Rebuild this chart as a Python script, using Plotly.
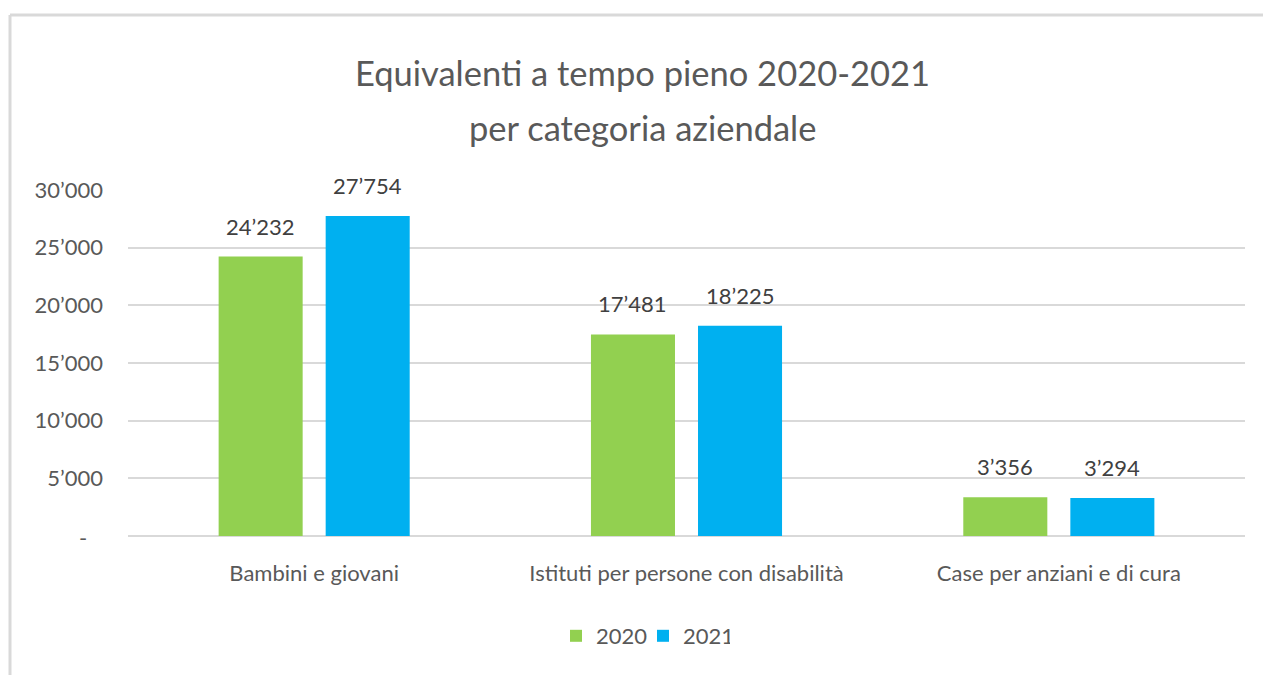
import plotly.graph_objects as go

categories = ["Bambini e giovani", "Istituti per persone con disabilità", "Case per anziani e di cura"]
series_names = ["2020", "2021"]
values_2020 = [24232, 17481, 3356]
values_2021 = [27754, 18225, 3294]
tick_vals = [0, 5000, 10000, 15000, 20000, 25000, 30000]
title_lines = ["Equivalenti a tempo pieno 2020-2021", "per categoria aziendale"]

def fmt(v):
    return "-" if v == 0 else f"{v:,}".replace(",", "\u2019")

colors = ["#92D050", "#00B0F0"]
FONT = "Lato, sans-serif"
W, H = 1263, 675
L, R, T, B = 128, 18, 190, 139
BARGAP, GROUPGAP = 0.425, 0.215

fig = go.Figure()
for name, vals, col in zip(series_names, [values_2020, values_2021], colors):
    fig.add_trace(go.Bar(
        x=categories, y=vals, name=name, marker=dict(color=col, line=dict(width=0)),
    ))

pw = W - L - R
ph = H - T - B
def px(x):
    return (x - L) / pw
def py(y):
    return (H - B - y) / ph

annotations = []
slot = (1 - BARGAP) / 2
for k, vals in enumerate([values_2020, values_2021]):
    off = (k - 0.5) * slot
    for i, v in enumerate(vals):
        annotations.append(dict(x=i + off, y=v, xref="x", yref="y", text=fmt(v), showarrow=False,
                                yanchor="bottom", yshift=15,
                                font=dict(family=FONT, size=22, color="#404040")))
for line, yc in zip(title_lines, [72, 127]):
    annotations.append(dict(x=px(642), y=py(yc), xref="paper", yref="paper", text=line,
                            showarrow=False, xanchor="center", yanchor="middle",
                            font=dict(family=FONT, size=34.5, color="#595959")))
# zero tick label drawn as Excel does (dash offset from the right edge)
tick_labels = [fmt(v) for v in tick_vals]
annotations.append(dict(x=0, y=tick_vals[0], xref="paper", yref="y", text=tick_labels[0],
                        showarrow=False, xanchor="right", yanchor="middle", xshift=-39, yshift=-1,
                        font=dict(family=FONT, size=22, color="#595959")))
tick_labels[0] = ""

fig.update_layout(
    width=W, height=H, margin=dict(l=L, r=R, t=T, b=B),
    paper_bgcolor="white", plot_bgcolor="white",
    font=dict(family=FONT, color="#595959"),
    barmode="group", bargap=BARGAP, bargroupgap=GROUPGAP,
    showlegend=True,
    legend=dict(orientation="h", x=643 / W, xref="container", xanchor="center",
                y=1 - 636 / H, yref="container", yanchor="middle",
                font=dict(family=FONT, size=22, color="#595959"), itemwidth=30,
                entrywidth=42, traceorder="normal"),
    xaxis=dict(showgrid=False, showline=False, ticks="", tickfont=dict(family=FONT, size=22, color="#595959"),
               ticklabelstandoff=22),
    yaxis=dict(range=[0, 30000], tickvals=tick_vals, ticktext=tick_labels,
               showgrid=True, gridcolor="#D9D9D9", gridwidth=2, zeroline=True, zerolinecolor="#D9D9D9",
               zerolinewidth=2, showline=False, ticks="", ticklabelstandoff=24,
               tickfont=dict(family=FONT, size=22, color="#595959")),
    annotations=annotations,
    shapes=[
        dict(type="line", xref="paper", yref="paper", x0=px(10), x1=px(1263), y0=py(15), y1=py(15),
             line=dict(color="#D9D9D9", width=3), layer="below"),
        dict(type="line", xref="paper", yref="paper", x0=px(10), x1=px(10), y0=py(15), y1=py(675),
             line=dict(color="#D9D9D9", width=3), layer="below"),
    ],
)
fig.write_html("out.html")
